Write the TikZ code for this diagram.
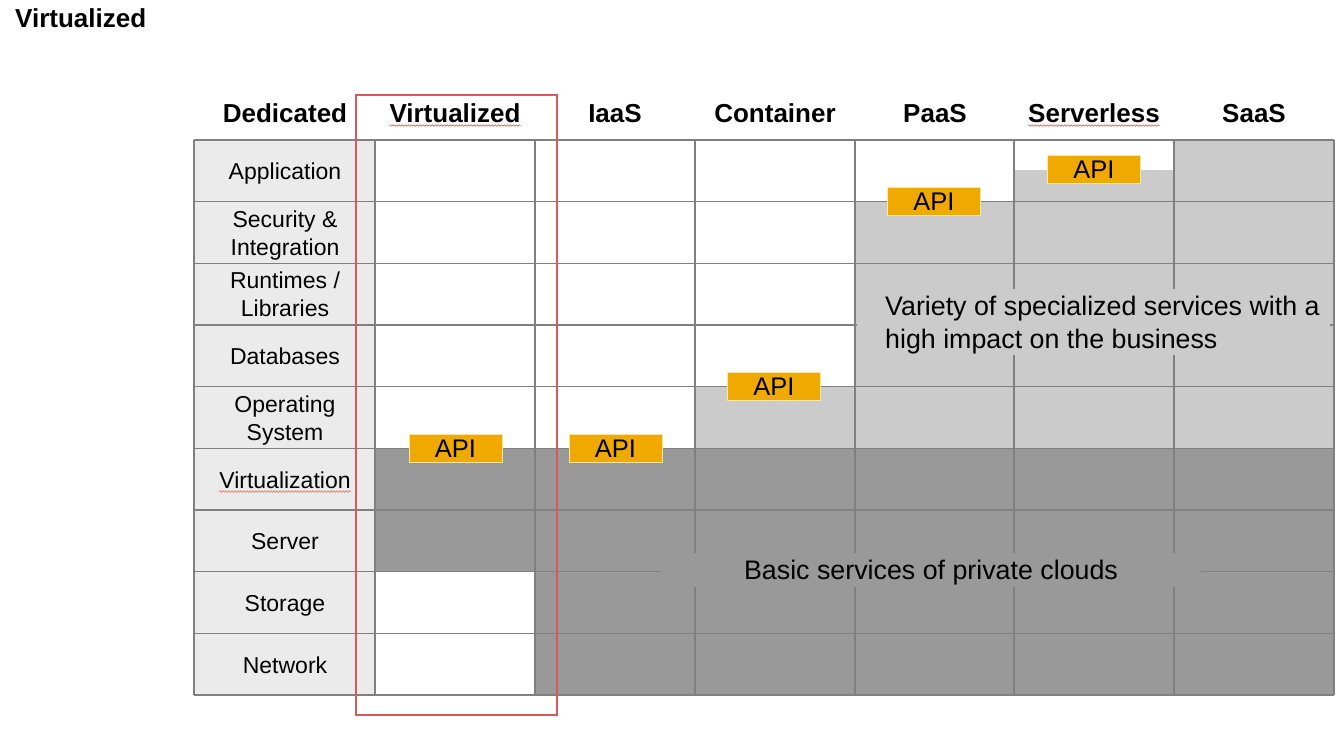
\documentclass[tikz,border=0pt]{standalone}
\usepackage{fontspec}
\setmainfont{Liberation Sans}
\usetikzlibrary{decorations.pathmorphing}
\definecolor{labelfill}{HTML}{EBEBEB}
\definecolor{lightfill}{HTML}{CBCBCB}
\definecolor{darkfill}{HTML}{999999}
\definecolor{gridline}{HTML}{808080}
\definecolor{apifill}{HTML}{F0A900}
\definecolor{apiedge}{HTML}{FFE7A0}
\definecolor{framered}{HTML}{D95A5C}
\begin{document}
\begin{tikzpicture}[x=1pt,y=-1pt,
  head/.style={font=\fontsize{26}{30}\selectfont\bfseries, inner sep=0pt, anchor=base},
  rowlabel/.style={font=\fontsize{23}{28}\selectfont, align=center, inner sep=0pt},
  api/.style={fill=apifill, draw=apiedge, line width=1pt, minimum width=93pt,
              minimum height=28pt, inner sep=0pt, text height=18pt, text depth=0pt,
              font=\fontsize{25.5}{25.5}\selectfont},
  gridrule/.style={draw=gridline, line width=1.4pt},
  bigtext/.style={font=\fontsize{26.8}{33}\selectfont, inner sep=0pt},
  squiggle/.style={draw=red!75, line width=0.5pt, decorate,
                   decoration={snake, amplitude=0.8pt, segment length=3pt}},
]
\useasboundingbox (0,0) rectangle (1336,729);
\fill[white] (0,0) rectangle (1336,729);

% page title
\node[head, anchor=base west] (title) at (15,27) {Virtualized};

% cell fills
\fill[labelfill] (194,140) rectangle (375,695);
\fill[darkfill]  (375,448.3) rectangle (535,571.7);
\fill[darkfill]  (535,448.3) rectangle (1334,695);
\fill[lightfill] (695,386.7) rectangle (855,448.3);
\fill[lightfill] (855,201.7) rectangle (1014,448.3);
\fill[lightfill] (1014,170) rectangle (1174,448.3);
\fill[lightfill] (1174,140) rectangle (1334,448.3);

% grid rules
\foreach \y in {140,201.7,263.3,325,386.7,448.3,510,571.7,633.3,695}
  \draw[gridrule] (194,\y) -- (1334,\y);
\foreach \x in {194,375,535,695,855,1014,1174,1334}
  \draw[gridrule] (\x,140) -- (\x,695);

% clear patches behind the two area captions
\fill[darkfill]  (661,553) rectangle (1201,587);
\fill[lightfill] (857,289) rectangle (1330,355);

% column headings
\node[head] (hded)  at (285,122) {Dedicated};
\node[head] (hvirt) at (455,122) {Virtualized};
\node[head] (hiaas) at (615,122) {IaaS};
\node[head] (hcont) at (775,122) {Container};
\node[head] (hpaas) at (935,122) {PaaS};
\node[head] (hsrvl) at (1094,122) {Serverless};
\node[head] (hsaas) at (1254,122) {SaaS};

% row labels
\node[rowlabel, anchor=base] (rapp)  at (285,179.5) {Application};
\node[rowlabel] (rsec)  at (285,235.5) {Security \&\\Integration};
\node[rowlabel] (rrun)  at (285,294.2) {Runtimes /\\Libraries};
\node[rowlabel, anchor=base] (rdb)   at (285,364.5) {Databases};
\node[rowlabel] (ros)   at (285,420.5) {Operating\\System};
\node[rowlabel, anchor=base] (rvirt) at (285,488) {Virtualization};
\node[rowlabel, anchor=base] (rsrv)  at (285,549.5) {Server};
\node[rowlabel, anchor=base] (rstor) at (285,611.2) {Storage};
\node[rowlabel, anchor=base] (rnet)  at (285,673) {Network};

% spell-check marks under some words
\draw[squiggle] ([yshift=-3.5pt]hvirt.base west) -- ([yshift=-3.5pt]hvirt.base east);
\draw[squiggle] ([yshift=-3.5pt]hsrvl.base west) -- ([yshift=-3.5pt]hsrvl.base east);
\draw[squiggle] ([yshift=-3.5pt]rvirt.base west) -- ([yshift=-3.5pt]rvirt.base east);

% API markers
\node[api] (apivirt) at (455.5,448) {API};
\node[api] (apiiaas) at (615.5,448) {API};
\node[api] (apicont) at (774,386)   {API};
\node[api] (apipaas) at (934,201)   {API};
\node[api] (apisrvl) at (1094,169.5) {API};

% area captions
\node[bigtext, anchor=west, align=left] (special) at (885,325)
  {Variety of specialized services with a\\high impact on the business};
\node[bigtext] (basic) at (931,573) {Basic services of private clouds};

% highlight frame around the Virtualized column
\draw[framered, line width=2.8pt] (356,95) rectangle (557,715);
\end{tikzpicture}
\end{document}
